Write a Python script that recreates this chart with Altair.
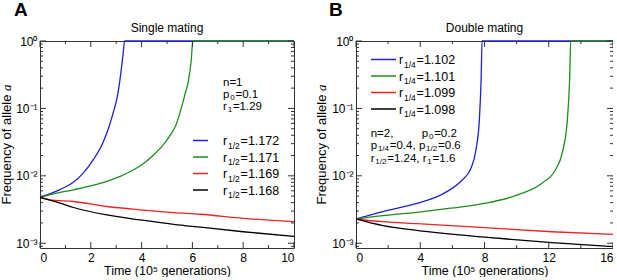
import altair as alt
import pandas as pd

# ---------------- data ----------------
A_blue_t = [0, 0.5, 0.8, 1.3, 1.7, 2.1, 2.45, 2.7, 2.9, 3.03, 3.12, 3.2, 3.27, 3.33, 10]
A_blue_f = [0.00479, 0.00562, 0.00631, 0.00794, 0.01096, 0.01738, 0.0295, 0.0513, 0.0912, 0.141, 0.224, 0.38, 0.631, 1.0, 1.0]
A_green_t = [0, 0.5, 1.32, 2.0, 2.63, 3.2, 3.69, 4.1, 4.48, 4.85, 5.14, 5.36, 5.56, 5.7, 5.84, 5.95, 6.02, 10]
A_green_f = [0.00479, 0.00537, 0.00621, 0.00708, 0.00826, 0.01, 0.0123, 0.0155, 0.0206, 0.0288, 0.0408, 0.0575, 0.1, 0.158, 0.251, 0.501, 1.0, 1.0]
A_red_t = [0, 0.4, 1.32, 2.63, 3.95, 5.27, 6.32, 8, 10]
A_red_f = [0.00479, 0.00441, 0.00416, 0.00351, 0.00313, 0.00285, 0.00269, 0.00234, 0.00209]
A_black_t = [0, 0.79, 1.32, 2.63, 3.95, 5.27, 6.32, 8, 10]
A_black_f = [0.00479, 0.00394, 0.00339, 0.00263, 0.00222, 0.00191, 0.00173, 0.00148, 0.00126]

B_blue_t = [0, 1.68, 3.79, 5.47, 6.53, 7.16, 7.47, 7.68, 7.79, 7.85, 16]
B_blue_f = [0.00229, 0.00295, 0.00389, 0.0055, 0.00832, 0.013, 0.0245, 0.0682, 0.269, 1.0, 1.0]
B_green_t = [0, 1.68, 3.79, 5.9, 8.0, 10.1, 11.58, 12.42, 12.84, 13.16, 13.3, 13.37, 16]
B_green_f = [0.00229, 0.00257, 0.00288, 0.00331, 0.00389, 0.00525, 0.00776, 0.0123, 0.0219, 0.0682, 0.269, 1.0, 1.0]
B_red_t = [0, 1.68, 3.79, 8, 12.2, 16]
B_red_f = [0.00229, 0.00209, 0.00195, 0.0017, 0.00148, 0.00135]
B_black_t = [0, 1.68, 3.79, 8, 12.2, 16]
B_black_f = [0.00229, 0.00182, 0.00155, 0.00123, 0.00102, 0.00089]

A_legend_values = ["1.172", "1.171", "1.169", "1.168"]
B_legend_values = ["1.102", "1.101", "1.099", "1.098"]
series_colors = ["#1f1fe0", "#1f8c1f", "#ee2222", "#000000"]

A_x_labels = [0, 2, 4, 6, 8, 10]
A_x_minor = [1, 3, 5, 7, 9]
B_x_labels = [0, 4, 8, 12, 16]
B_x_minor = [2, 6, 10, 14]
y_major = [0.001, 0.01, 0.1, 1.0]
y_minor = [k * 10.0 ** e for e in (-4, -3, -2, -1) for k in range(2, 10) if k * 10.0 ** e >= 0.00085]
Y_MIN = 0.00085

# ---------------- helpers ----------------
FONT = "Liberation Sans"
FRAME = "#333333"
ONE = pd.DataFrame({"k": [0]})
AW = {c: 0.556 for c in "0123456789"}
AW.update({".": 0.278, ",": 0.278, "=": 0.584, " ": 0.278, "r": 0.333, "p": 0.556,
           "n": 0.556, "/": 0.278, "F": 0.611, "q": 0.556, "u": 0.556, "e": 0.556,
           "c": 0.5, "y": 0.5, "o": 0.556, "f": 0.278, "a": 0.556, "l": 0.222})


def width(s):
    return sum(AW.get(c, 0.556) for c in s)


def txt(t, x, y, size, align="left", baseline="alphabetic", **kw):
    return alt.Chart(ONE).mark_text(text=t, font=kw.pop("font", FONT), fontSize=size, align=align,
                                    baseline=baseline, color="black", **kw).encode(
        x=alt.value(x), y=alt.value(y))


def compose(runs, x0, y0, fs, sfs, drop, gap=0.8):
    out = []
    x = x0
    prev = None
    for t, sub in runs:
        if prev is not None and prev != sub:
            x += gap
        size = sfs if sub else fs
        out.append(txt(t, x, y0 + (drop if sub else 0), size))
        x += width(t) * size
        prev = sub
    return out


def panel(series, xmax, xlabels, xminor, W, H, title, letter, letter_x,
          leg_vals, leg_sub, leg_x1, leg_x2, leg_tx, leg_rows, notes, ytitle_x):
    xs = alt.Scale(domain=[0, xmax], nice=False, zero=False)
    ys = alt.Scale(type="log", domain=[Y_MIN, 1], nice=False)
    xaxis = alt.Axis(
        values=xlabels, ticks=False, domain=False, grid=False, labelPadding=4,
        labelFontSize=12, labelFont=FONT, labelColor="black",
        title="Time (10⁵ generations)", titleFont=FONT, titleFontSize=12.5,
        titleFontWeight="normal", titleColor="black", titlePadding=1)
    yaxis = alt.Axis(
        values=y_major, ticks=False, domain=False, grid=False, labelPadding=3,
        labelFontSize=12, labelFont=FONT, labelColor="black", title="",
        labelExpr="datum.value > 0.5 ? '10⁰' : datum.value > 0.05 ? '10⁻¹' : datum.value > 0.005 ? '10⁻²' : '10⁻³'")
    layers = []
    for (t, f), col in zip(series, series_colors):
        df = pd.DataFrame({"t": t, "f": f})
        layers.append(alt.Chart(df).mark_line(interpolate="monotone", strokeWidth=1.3, clip=False,
                                              color=col).encode(
            x=alt.X("t:Q", scale=xs, axis=xaxis), y=alt.Y("f:Q", scale=ys, axis=yaxis)))
    # inward ticks
    for vals, ln in ((xlabels, 6), (xminor, 3)):
        d = pd.DataFrame({"t": vals})
        xe = alt.X("t:Q", scale=xs, axis=xaxis)
        layers.append(alt.Chart(d).mark_rule(color=FRAME, strokeWidth=1).encode(
            x=xe, y=alt.value(H), y2=alt.value(H - ln)))
        layers.append(alt.Chart(d).mark_rule(color=FRAME, strokeWidth=1).encode(
            x=xe, y=alt.value(0), y2=alt.value(ln)))
    for vals, ln in ((y_major, 6), (y_minor, 3)):
        d = pd.DataFrame({"f": vals})
        ye = alt.Y("f:Q", scale=ys, axis=yaxis)
        layers.append(alt.Chart(d).mark_rule(color=FRAME, strokeWidth=1).encode(
            y=ye, x=alt.value(0), x2=alt.value(ln)))
        layers.append(alt.Chart(d).mark_rule(color=FRAME, strokeWidth=1).encode(
            y=ye, x=alt.value(W), x2=alt.value(W - ln)))
    # legend
    for val, col, ry in zip(leg_vals, series_colors, leg_rows):
        layers.append(alt.Chart(ONE).mark_rule(color=col, strokeWidth=1.5).encode(
            x=alt.value(leg_x1), x2=alt.value(leg_x2), y=alt.value(ry)))
        layers += compose([("r", 0), (leg_sub, 1), ("=" + val, 0)], leg_tx, ry + 4.5, 12.5, 8.5, 3.5)
    # notes
    for runs, x0, y0 in notes:
        layers += compose(runs, x0, y0, 11.5, 8, 2)
    # titles
    layers.append(txt(title, W / 2, -9, 12, align="center"))
    layers.append(txt(letter, letter_x, -25, 19, fontWeight="bold"))
    # y title with italic a
    phrase = "Frequency of allele "
    fs = 13
    total = width(phrase) * fs + 0.5 * fs
    yb = H / 2 + total / 2
    layers.append(txt(phrase, ytitle_x, yb, fs, angle=270))
    layers.append(txt("a", ytitle_x, yb - width(phrase) * fs, fs, angle=270,
                      font="Liberation Serif", fontStyle="italic"))
    return alt.layer(*layers).properties(width=W, height=H)


A_notes = [
    ([("n=1", 0)], 183, 45),
    ([("p", 0), ("0", 1), ("=0.1", 0)], 183, 56.5),
    ([("r", 0), ("1", 1), ("=1.29", 0)], 183, 69),
]
B_notes = [
    ([("n=2,", 0)], 14.7, 96),
    ([("p", 0), ("0", 1), ("=0.2", 0)], 65.7, 96),
    ([("p", 0), ("1/4", 1), ("=0.4, p", 0), ("1/2", 1), ("=0.6", 0)], 14.7, 108),
    ([("r", 0), ("1/2", 1), ("=1.24, r", 0), ("1", 1), ("=1.6", 0)], 14.7, 120.5),
]

A = panel([(A_blue_t, A_blue_f), (A_green_t, A_green_f), (A_red_t, A_red_f), (A_black_t, A_black_f)],
          10, A_x_labels, A_x_minor, 254, 207, "Single mating", "A", -26,
          A_legend_values, "1/2", 153, 168, 183, [99.5, 116, 132.5, 149], A_notes, -29)
B = panel([(B_blue_t, B_blue_f), (B_green_t, B_green_f), (B_red_t, B_red_f), (B_black_t, B_black_f)],
          16, B_x_labels, B_x_minor, 257, 207, "Double mating", "B", -27,
          B_legend_values, "1/4", 15, 40, 43, [18.5, 35, 51.5, 68], B_notes, -30)

chart = alt.hconcat(A, B, spacing=17).configure(
    padding={"left": 0, "top": 0, "right": -4, "bottom": 0}, background="white"
).configure_view(stroke=FRAME, strokeWidth=1)

chart.save("out.html", embed_options={"renderer": "svg", "actions": False})
